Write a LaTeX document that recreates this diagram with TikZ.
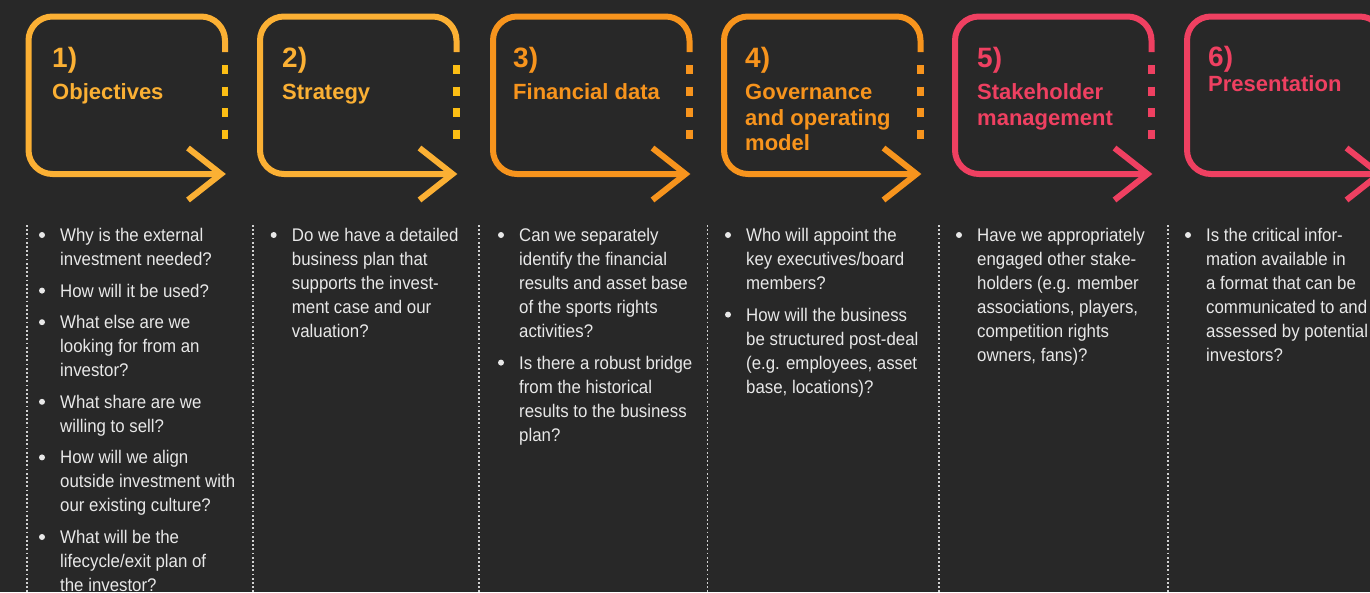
\documentclass[tikz,border=0pt]{standalone}
\usepackage{fontspec}
\setmainfont{Liberation Sans}
\newfontfamily\bodyfnt[FakeStretch=0.92]{Liberation Sans}
\definecolor{bgc}{HTML}{282828}
\definecolor{yel}{HTML}{FBB034}
\definecolor{yeld}{HTML}{FCBE14}
\definecolor{ora}{HTML}{F7941D}
\definecolor{pnk}{HTML}{EF4061}
\definecolor{bodygray}{HTML}{E8E8E8}
\definecolor{dotgray}{HTML}{D0D0D0}
\tikzset{
  frame/.style={line width=6pt, rounded corners=24pt},
  chev/.style={line width=6pt, line join=miter},
  dashseg/.style={line width=6.5pt, dash pattern=on 9pt off 12.5pt},
  numtxt/.style={anchor=base west, inner sep=0pt, font=\fontsize{28}{30}\selectfont\bfseries},
  ttltxt/.style={anchor=base west, inner sep=0pt, font=\fontsize{22}{25}\selectfont\bfseries},
  bodytext/.style={anchor=base west, inner sep=0pt, text=bodygray, font=\bodyfnt\fontsize{18.3}{24}\selectfont},
  bulletdot/.style={circle, fill=bodygray, inner sep=0pt, minimum size=6pt},
  dotline/.style={draw=dotgray, line width=1.8pt, dash pattern=on 1.8pt off 2.4pt}
}
\newcommand\qbox[3]{%
  \draw[frame, draw=#2] (#1+196.5,52) -- (#1+196.5,16.5) -- (#1,16.5) -- (#1,174) -- (#1+192.5,174);
  \draw[chev, draw=#2] (#1+196.5-37,148) -- (#1+192.5,174) -- (#1+196.5-37,200);
  \draw[dashseg, draw=#3] (#1+196.5,65) -- (#1+196.5,140);
}
\newcommand\qcol[3]{%
  \xdef\qy{241.5}%
  \foreach \qitem [count=\ii] in {#3}{%
    \node[bulletdot] (#1-b\ii) at (#2-18,\qy-6.5) {};
    \foreach \qln [count=\jj] in \qitem {%
      \node[bodytext] (#1-\ii-\jj) at (#2,\qy) {\qln};
      \pgfmathsetmacro\qtmp{\qy+24}\xdef\qy{\qtmp}%
    }%
    \pgfmathsetmacro\qtmp{\qy+7.6}\xdef\qy{\qtmp}%
  }%
}
\begin{document}
\begin{tikzpicture}[x=1pt,y=-1pt]
\useasboundingbox (0,0) rectangle (1370,592);
\fill[bgc] (0,0) rectangle (1370,592);
% boxes
\qbox{28.5}{yel}{yeld}
\qbox{260}{yel}{yeld}
\qbox{493}{ora}{ora}
\qbox{724}{ora}{ora}
\qbox{955}{pnk}{pnk}
\qbox{1187}{pnk}{pnk}
% titles
\node[numtxt, text=yel] (n1) at (52,67) {1)};
\node[ttltxt, text=yel] (t1) at (52,99.5) {Objectives};
\node[numtxt, text=yel] (n2) at (282,67) {2)};
\node[ttltxt, text=yel] (t2) at (282,99.5) {Strategy};
\node[numtxt, text=ora] (n3) at (513,67) {3)};
\node[ttltxt, text=ora] (t3) at (513,99.5) {Financial data};
\node[numtxt, text=ora] (n4) at (745,67) {4)};
\node[ttltxt, text=ora] (t4a) at (745,99.5) {Governance};
\node[ttltxt, text=ora] (t4b) at (745,125) {and operating};
\node[ttltxt, text=ora] (t4c) at (745,150.5) {model};
\node[numtxt, text=pnk] (n5) at (977,67) {5)};
\node[ttltxt, text=pnk] (t5a) at (977,99.5) {Stakeholder};
\node[ttltxt, text=pnk] (t5b) at (977,125) {management};
\node[numtxt, text=pnk] (n6) at (1208,66) {6)};
\node[ttltxt, text=pnk] (t6) at (1208,91.5) {Presentation};
% dotted separators
\foreach \xx in {26.7,253,479.3,707.5,939.3,1168}{
  \draw[dotline] (\xx,225) -- (\xx,592);
}
% body
\qcol{c1}{60}{{{Why is the external},{investment needed?}},{{How will it be used?}},{{What else are we},{looking for from an},{investor?}},{{What share are we},{willing to sell?}},{{How will we align},{outside investment with},{our existing culture?}},{{What will be the},{lifecycle/exit plan of},{the investor?}}}
\qcol{c2}{291.7}{{{Do we have a detailed},{business plan that},{supports the invest-},{ment case and our},{valuation?}}}
\qcol{c3}{519}{{{Can we separately},{identify the financial},{results and asset base},{of the sports rights},{activities?}},{{Is there a robust bridge},{from the historical},{results to the business},{plan?}}}
\qcol{c4}{746}{{{Who will appoint the},{key executives/board},{members?}},{{How will the business},{be structured post-deal},{(e.g. employees, asset},{base, locations)?}}}
\qcol{c5}{977}{{{Have we appropriately},{engaged other stake-},{holders (e.g. member},{associations, players,},{competition rights},{owners, fans)?}}}
\qcol{c6}{1206}{{{Is the critical infor-},{mation available in},{a format that can be},{communicated to and},{assessed by potential},{investors?}}}
\end{tikzpicture}
\end{document}
